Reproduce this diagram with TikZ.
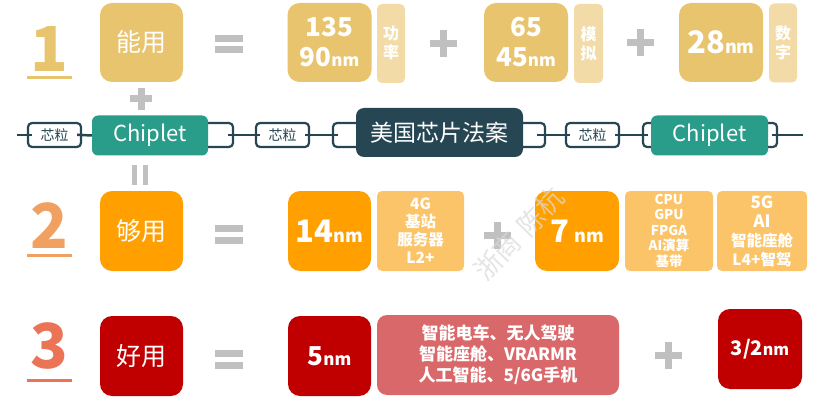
\documentclass[tikz,border=0pt]{standalone}
\usepackage{fontspec}
\setmainfont{Noto Sans CJK SC}
\definecolor{tan}{HTML}{E8C46E}
\definecolor{ltan}{HTML}{F2DBA6}
\definecolor{org}{HTML}{FFA000}
\definecolor{lorg}{HTML}{FCC468}
\definecolor{dred}{HTML}{C00000}
\definecolor{pink}{HTML}{D9686A}
\definecolor{teal}{HTML}{2A9D8A}
\definecolor{dark}{HTML}{264653}
\definecolor{symgray}{HTML}{C0C0C0}
\definecolor{num2}{HTML}{F0A060}
\definecolor{num3}{HTML}{EB7457}
\newcommand\unitnm[1]{{\fontsize{#1}{#1}\selectfont nm}}
\tikzset{
  bigbox/.style={rounded corners=12pt, minimum width=84pt, minimum height=80pt, text=white, inner sep=0pt, align=center},
  tagbox/.style={rounded corners=5pt, text=white, inner sep=0pt, align=center, font=\bfseries\fontsize{16}{19}\selectfont},
  chipbox/.style={draw=dark, line width=2.2pt, fill=white, rounded corners=4pt, minimum width=53pt, minimum height=24pt, inner sep=0pt, font=\fontsize{14}{14}\selectfont, text=dark},
  bracketbox/.style={draw=dark, line width=2.2pt, fill=white, rounded corners=4pt, minimum height=24pt, inner sep=0pt},
  conn/.style={draw=dark, line width=2.5pt},
  sym/.style={draw=symgray, line width=7pt},
  bignum/.style={anchor=base, inner sep=0pt, font=\bfseries\fontsize{62}{62}\selectfont},
}
\begin{document}
\begin{tikzpicture}[x=1pt,y=-1pt]
\useasboundingbox (0,0) rectangle (837,406);

% ---------- row 1 ----------
\node[bignum, text=tan] (one) at (49,72) {1};
\draw[tan, line width=3pt] (27,77.5) -- (72,77.5);
\node[bigbox, fill=tan, minimum width=83pt, minimum height=79pt, font=\fontsize{25}{25}\selectfont] (nengyong) at (141.5,42.5) {能用};
\draw[sym] (215,38.5) -- (243,38.5) (215,50) -- (243,50);
\node[bigbox, fill=tan, minimum height=79pt, font=\bfseries\fontsize{26}{30}\selectfont] (n135) at (329.5,42.5) {135\\90\unitnm{17}};
\node[tagbox, fill=ltan, minimum width=28pt, minimum height=79pt] (gonglv) at (391,43.5) {功\\率};
\draw[sym] (430,44) -- (457,44) (443.5,30.5) -- (443.5,57.5);
\node[bigbox, fill=tan, minimum height=79pt, font=\bfseries\fontsize{26}{30}\selectfont] (n65) at (526,42.5) {65\\45\unitnm{17}};
\node[tagbox, fill=ltan, minimum width=29pt, minimum height=79pt] (moni) at (588.5,43.5) {模\\拟};
\draw[sym] (627,43) -- (654,43) (640.5,29.5) -- (640.5,56.5);
\node[bigbox, fill=tan, minimum height=79pt, font=\bfseries\fontsize{31}{31}\selectfont] (n28) at (721,42.5) {28\unitnm{18}};
\node[tagbox, fill=ltan, minimum width=28pt, minimum height=79pt] (shuzi) at (783,43) {数\\字};

% plus between row 1 and chiplet row
\draw[sym] (130,99) -- (152,99) (141,88) -- (141,110);

% ---------- chiplet row ----------
\node[bracketbox, minimum width=83pt] (b1) at (191.5,135) {};
\node[bracketbox, minimum width=212pt] (b2) at (439,135) {};
\node[bracketbox, minimum width=134pt] (b3) at (710,135) {};
\node[chipbox] (k1) at (54.5,135) {芯粒};
\node[chipbox] (k2) at (282.5,135) {芯粒};
\node[chipbox] (k3) at (592.5,135) {芯粒};
\coordinate (lstart) at (17,135);
\coordinate (lend) at (803,135);
\node[fill=teal, rounded corners=6pt, minimum width=116pt, minimum height=40pt, inner sep=0pt, text=white, font=\fontsize{22}{22}\selectfont] (c1) at (150,135.5) {Chiplet};
\node[fill=dark, rounded corners=8pt, minimum width=167pt, minimum height=49pt, inner sep=0pt, text=white, font=\fontsize{23}{23}\selectfont] (us) at (439.5,132.5) {美国芯片法案};
\node[fill=teal, rounded corners=6pt, minimum width=117pt, minimum height=40pt, inner sep=0pt, text=white, font=\fontsize{22}{22}\selectfont] (c2) at (709.5,135.5) {Chiplet};
\draw[conn, shorten >=-5pt] (lstart) -- (k1.west);
\draw[conn, shorten <=-5pt] (k1.east) -- (c1.west);
\draw[conn, shorten <=-6pt, shorten >=-5pt] (b1.east) -- (k2.west);
\draw[conn, shorten <=-5pt, shorten >=-6pt] (k2.east) -- (b2.west);
\draw[conn, shorten <=-9pt, shorten >=-5pt] (b2.east) -- (k3.west);
\draw[conn, shorten <=-5pt, shorten >=-6pt] (k3.east) -- (b3.west);
\draw[conn, shorten <=-6pt] (b3.east) -- (lend);

% equals (vertical) between chiplet row and row 2
\draw[draw=symgray, line width=5pt] (134.5,165) -- (134.5,185) (145,165) -- (145,185);

% ---------- row 2 ----------
\node[bignum, text=num2] (two) at (49,248) {2};
\draw[num2, line width=3pt] (27,255) -- (72,255);
\node[bigbox, fill=org, minimum width=83pt, font=\fontsize{25}{25}\selectfont] (gouyong) at (141.5,231) {够用};
\draw[sym] (215,228.5) -- (243,228.5) (215,240.5) -- (243,240.5);
\node[bigbox, fill=org, minimum width=83pt, font=\bfseries\fontsize{31}{31}\selectfont] (n14) at (329.5,231) {14\unitnm{18}};
\node[tagbox, fill=lorg, minimum width=87pt, minimum height=80pt, font=\bfseries\fontsize{15.5}{18}\selectfont] (g4) at (420.5,231) {4G\\基站\\服务器\\L2+};
\draw[sym] (484,235.5) -- (511,235.5) (497.5,222) -- (497.5,249);
\node[bigbox, fill=org, font=\bfseries\fontsize{31}{31}\selectfont] (n7) at (577,231) {7\,\unitnm{18}};
\node[tagbox, fill=lorg, minimum width=88pt, minimum height=80pt, font=\bfseries\fontsize{13.5}{15.5}\selectfont] (cpu) at (669,231) {CPU\\GPU\\FPGA\\AI演算\\基带};
\node[tagbox, fill=lorg, minimum width=90pt, minimum height=80pt, font=\bfseries\fontsize{15.5}{19}\selectfont] (g5) at (762,231) {{\fontsize{17}{19}\selectfont 5G}\\{\fontsize{17}{19}\selectfont AI}\\智能座舱\\L4+智驾};

% ---------- row 3 ----------
\node[bignum, text=num3] (three) at (49,368) {3};
\draw[num3, line width=3pt] (27,380) -- (72,380);
\node[bigbox, fill=dred, minimum width=83pt, font=\fontsize{25}{25}\selectfont] (haoyong) at (141.5,356) {好用};
\draw[sym] (215,353.5) -- (243,353.5) (215,365.5) -- (243,365.5);
\node[bigbox, fill=dred, minimum width=83pt, font=\bfseries\fontsize{26}{26}\selectfont] (n5) at (329.5,356) {5\unitnm{17}};
\node[tagbox, fill=pink, rounded corners=10pt, minimum width=242pt, minimum height=80pt, font=\bfseries\fontsize{17}{21}\selectfont] (apps) at (498,355) {智能电车、无人驾驶\\智能座舱、VRARMR\\人工智能、5/6G手机};
\draw[sym] (655,355.5) -- (682,355.5) (668.5,342) -- (668.5,369);
\node[bigbox, fill=dred, minimum width=84pt, font=\bfseries\fontsize{20}{20}\selectfont] (n32) at (760,349) {3/2\unitnm{16}};

% watermark
\node[rotate=46, text=gray!30, opacity=0.7, font=\fontsize{27}{27}\selectfont] (wm) at (519,234) {浙商\hspace{8pt}陈杭};
\end{tikzpicture}
\end{document}
